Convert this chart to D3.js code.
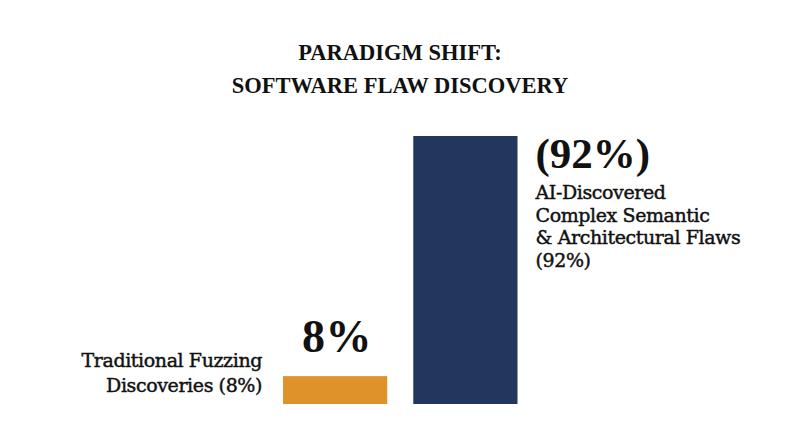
<!DOCTYPE html>
<html>
<head>
  <meta charset="utf-8">
  <title>Paradigm Shift</title>
  <script src="https://d3js.org/d3.v7.min.js"></script>
<style>
  body { margin: 0; background: #fff; }
  text { font-family: "Liberation Serif", "DejaVu Serif", serif; fill: #111; }
  .lab { font-family: "DejaVu Serif", serif; font-size: 19px; letter-spacing: -0.4px;
         stroke: #111; stroke-width: 0.45px; }
</style>
</head>
<body>
  <svg width="800" height="447"></svg>
  <script>
    // chart data
    var categories = ["Traditional Fuzzing", "AI-Discovered"];
    var values = [8, 92];
    var valueLabels = ["8%", "(92%)"];
    var colors = ["#DF9229", "#22375D"];
    var titleLines = ["PARADIGM SHIFT:", "SOFTWARE FLAW DISCOVERY"];
    var leftLabel = ["Traditional Fuzzing", "Discoveries (8%)"];
    var rightLabel = ["AI-Discovered", "Complex Semantic", "& Architectural Flaws", "(92%)"];

    var svg = d3.select("svg");

    var x = d3.scaleBand()
      .domain(categories)
      .range([283, 517.5])
      .paddingInner(0.2);

    var y = d3.scaleLinear()
      .domain([-1.75, 92])
      .range([404, 136]);

    var base = y(y.domain()[0]);

    // title
    svg.append("g").selectAll("text")
      .data(titleLines)
      .enter().append("text")
        .attr("x", 400)
        .attr("y", function(d, i) { return 60 + i * 33; })
        .attr("text-anchor", "middle")
        .style("font-size", "22.5px")
        .style("font-weight", "bold")
        .text(function(d) { return d; });

    // bars
    svg.append("g").selectAll("rect")
      .data(values)
      .enter().append("rect")
        .attr("x", function(d, i) { return x(categories[i]); })
        .attr("y", function(d) { return y(d); })
        .attr("width", x.bandwidth())
        .attr("height", function(d) { return base - y(d); })
        .attr("fill", function(d, i) { return colors[i]; });

    // 8% above orange bar
    svg.append("text")
      .attr("x", x(categories[0]) + x.bandwidth() / 2 + 2)
      .attr("y", y(values[0]) - 24)
      .attr("text-anchor", "middle")
      .style("font-size", "46px")
      .style("font-weight", "bold")
      .style("letter-spacing", "0.5px")
      .text(valueLabels[0]);

    // (92%) right of navy bar
    var rx = x(categories[1]) + x.bandwidth() + 18;
    svg.append("text")
      .attr("x", rx)
      .attr("y", y(values[1]) + 32)
      .style("font-size", "43px")
      .style("font-weight", "bold")
      .text(valueLabels[1]);

    svg.append("g").selectAll("text")
      .data(rightLabel)
      .enter().append("text")
        .attr("class", "lab")
        .attr("x", rx)
        .attr("y", function(d, i) { return 199 + i * 22.5; })
        .text(function(d) { return d; });

    // left label
    svg.append("g").selectAll("text")
      .data(leftLabel)
      .enter().append("text")
        .attr("class", "lab")
        .attr("x", x(categories[0]) - 21)
        .attr("y", function(d, i) { return 367 + i * 25; })
        .attr("text-anchor", "end")
        .text(function(d) { return d; });
  </script>
</body>
</html>
